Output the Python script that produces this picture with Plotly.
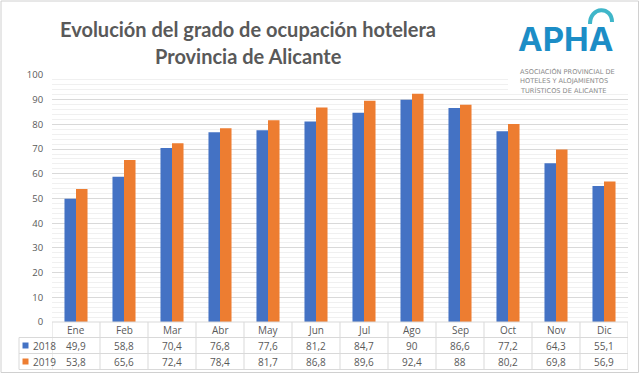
import plotly.graph_objects as go

months = ["Ene", "Feb", "Mar", "Abr", "May", "Jun", "Jul", "Ago", "Sep", "Oct", "Nov", "Dic"]
series_names = ["2018", "2019"]
values_2018 = [49.9, 58.8, 70.4, 76.8, 77.6, 81.2, 84.7, 90, 86.6, 77.2, 64.3, 55.1]
values_2019 = [53.8, 65.6, 72.4, 78.4, 81.7, 86.8, 89.6, 92.4, 88, 80.2, 69.8, 56.9]
colors = ["#4472C4", "#ED7D31"]
y_ticks = [0, 10, 20, 30, 40, 50, 60, 70, 80, 90, 100]

W, H = 640, 374
L, R, T, B = 52, 12, 75, 52
PW, PH = W - L - R, H - T - B


def px(x):
    return (x - L) / PW


def py(y):
    return (H - B - y) / PH


fig = go.Figure()
for name, vals, col in zip(series_names, [values_2018, values_2019], colors):
    fig.add_trace(go.Bar(x=months, y=vals, name=name, marker_color=col,
                         marker_line_width=0, showlegend=False))

shapes = []
ann = []
grid = "#d9d9d9"
row_top, row1, row2, row_bot = 322, 337.5, 353.5, 369.5
for yy, x0 in [(row_top, L), (row1, 19), (row2, 19), (row_bot, 19)]:
    shapes.append(dict(type="line", xref="paper", yref="paper", x0=px(x0), x1=1,
                       y0=py(yy), y1=py(yy), line=dict(color=grid, width=1)))
for k in range(len(months) + 1):
    shapes.append(dict(type="line", xref="x", yref="paper", x0=k - 0.5, x1=k - 0.5,
                       y0=py(row_top), y1=py(row_bot), line=dict(color=grid, width=1)))
shapes.append(dict(type="line", xref="paper", yref="paper", x0=px(19), x1=px(19),
                   y0=py(row1), y1=py(row_bot), line=dict(color=grid, width=1)))
shapes.append(dict(type="rect", xref="paper", yref="paper", x0=px(1), x1=px(638.5),
                   y0=py(372.5), y1=py(1), line=dict(color="#d0d0d0", width=1)))
# white logo background covering the grid
shapes.append(dict(type="rect", xref="paper", yref="paper", x0=px(508), x1=px(632),
                   y0=py(94), y1=py(60), fillcolor="white", line=dict(width=0), layer="above"))

tfont = dict(family="Open Sans, Arial", size=10, color="#595959")


def add_text(x, y, text, font, xref="paper", xanchor="center"):
    ann.append(dict(x=x, y=y, xref=xref, yref="paper", text=text, showarrow=False,
                    xanchor=xanchor, yanchor="middle", font=font))


for i, m in enumerate(months):
    add_text(i, py((row_top + row1) / 2), m, tfont, xref="x")
for r, (name, vals, col) in enumerate(zip(series_names, [values_2018, values_2019], colors)):
    yc = [(row1 + row2) / 2, (row2 + row_bot) / 2][r]
    for i, v in enumerate(vals):
        add_text(i, py(yc), f"{v:g}".replace(".", ","), tfont, xref="x")
    shapes.append(dict(type="rect", xref="paper", yref="paper", x0=px(22.5), x1=px(28.5),
                       y0=py(yc + 3), y1=py(yc - 3), fillcolor=col, line=dict(width=0)))
    add_text(px(30.5), py(yc), name, tfont, xanchor="left")

ttl = dict(family="Lato, Open Sans", size=20, color="#595959")
add_text(px(248), py(29), "<b>Evolución del grado de ocupación hotelera</b>", ttl)
add_text(px(248), py(56), "<b>Provincia de Alicante</b>", ttl)

add_text(px(565), py(39), "<b>APHA</b>",
         dict(family="Inter, Open Sans", size=33, color="#1C8DC6"))
for j, line in enumerate(["ASOCIACIÓN PROVINCIAL DE", "HOTELES Y ALOJAMIENTOS",
                          "TURÍSTICOS DE ALICANTE"]):
    add_text(px(518), py(71 + 9.5 * j), line,
             dict(family="DejaVu Sans", size=6.6, color="#8a8a8a"), xanchor="left")
shapes.append(dict(type="path", xref="paper", yref="paper",
                   path=f"M {px(590)},{py(24)} C {px(590)},{py(6)} {px(612)},{py(6)} {px(612)},{py(22)}",
                   line=dict(color="#3FB6C9", width=4)))

fig.update_layout(
    width=W, height=H,
    margin=dict(l=L, r=R, t=T, b=B),
    paper_bgcolor="white", plot_bgcolor="white",
    barmode="group", bargap=0.52, bargroupgap=0,
    shapes=shapes, annotations=ann,
    xaxis=dict(showticklabels=False, showgrid=False, zeroline=False, showline=False,
               range=[-0.5, 11.5], fixedrange=True),
    yaxis=dict(range=[0, 100], tickvals=y_ticks, showgrid=True, gridcolor="#d9d9d9",
               gridwidth=1, zeroline=False, showline=False,
               ticks="outside", ticklen=6, tickcolor="rgba(0,0,0,0)",
               tickfont=dict(family="Open Sans, Arial", size=9.5, color="#595959"),
               minor=dict(dtick=2, showgrid=True, gridcolor="#f0f0f0", gridwidth=1)),
)

fig.write_html("out.html")
